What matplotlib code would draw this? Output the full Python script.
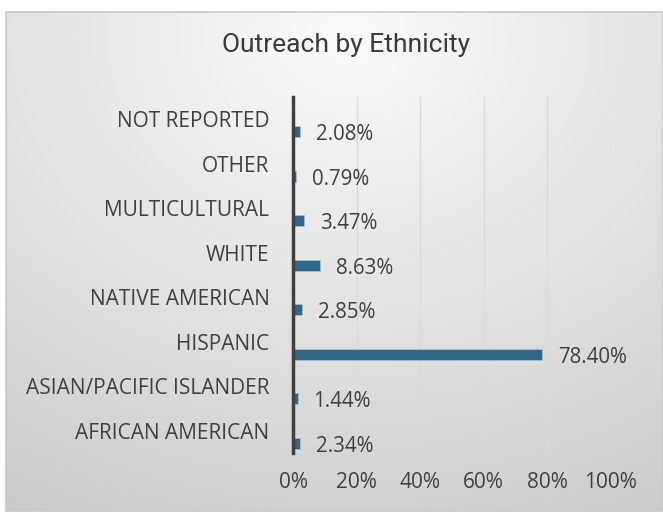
import numpy as np
import matplotlib
matplotlib.use("Agg")
import matplotlib.pyplot as plt
from matplotlib.patches import Rectangle

categories = ["AFRICAN AMERICAN", "ASIAN/PACIFIC ISLANDER", "HISPANIC", "NATIVE AMERICAN",
              "WHITE", "MULTICULTURAL", "OTHER", "NOT REPORTED"]
values = [2.34, 1.44, 78.40, 2.85, 8.63, 3.47, 0.79, 2.08]
xticks = [0, 20, 40, 60, 80, 100]
xticklabels = ["0%", "20%", "40%", "60%", "80%", "100%"]
title = "Outreach by Ethnicity"

W, H = 663, 512
fig = plt.figure(figsize=(W / 100, H / 100), dpi=100)
fig.patch.set_facecolor("white")

# background panel with radial gradient
bx0, by0, bx1, by1 = 6, 12, 663, 511
bg = fig.add_axes([bx0 / W, 1 - by1 / H, (bx1 - bx0) / W, (by1 - by0) / H])
bg.set_axis_off()
ny, nx = 200, 260
yy, xx = np.mgrid[0:ny, 0:nx]
cx, cy = nx * 0.52, ny * 0.05
d = np.sqrt(((xx - cx) / nx) ** 2 + ((yy - cy) / ny) ** 2 * 0.9)
d = d / d.max()
g = 0.985 - 0.19 * d
img = np.dstack([g, g, g])
bg.imshow(img, aspect="auto", extent=[0, 1, 0, 1], origin="upper", interpolation="bilinear")
bg.set_xlim(0, 1); bg.set_ylim(0, 1)
bg.add_patch(Rectangle((0, 0), 1, 1, transform=bg.transAxes, fill=False,
                       edgecolor="#c8c8c8", linewidth=1.2, clip_on=False))

font = ["Open Sans", "DejaVu Sans"]
txt = "#404040"

fig.text(346 / W, 1 - 45 / H, title, ha="center", va="center", fontsize=19,
         color="#3a3a3a", family=["Roboto", "DejaVu Sans"])

ax = fig.add_axes([293 / W, 1 - 453 / H, (611 - 293) / W, (453 - 97) / H])
ax.set_facecolor("none")
n = len(categories)
ypos = np.arange(n)
bar_y = ypos - 0.28
ax.barh(bar_y, values, height=0.25, color="#306789", edgecolor="#a9c3d3", linewidth=0.5, zorder=3)
for y, v in zip(bar_y, values):
    ax.annotate(f"{v:.2f}%", xy=(v, y), xytext=(16, -3), textcoords="offset pixels",
                ha="left", va="center", fontsize=14.8,
                color=txt, family=font, zorder=4)

ax.set_xlim(0, 100)
ax.set_ylim(-0.5, n - 0.5)
ax.set_xticks(xticks)
ax.set_xticklabels(xticklabels, family=font, fontsize=15, color=txt)
ax.set_yticks(ypos)
ax.set_yticklabels(categories, family=font, fontsize=15, color=txt)
ax.tick_params(axis="x", length=0, pad=14)
ax.tick_params(axis="y", length=0, pad=17)
ax.xaxis.grid(True, color="#d9d9d9", linewidth=1.0, zorder=0)
ax.yaxis.grid(False)
for s in ["top", "right", "bottom"]:
    ax.spines[s].set_visible(False)
ax.spines["left"].set_color("#404040")
ax.spines["left"].set_linewidth(2.5)
ax.spines["left"].set_zorder(5)

fig.savefig("out.png", dpi=100, facecolor="white")
